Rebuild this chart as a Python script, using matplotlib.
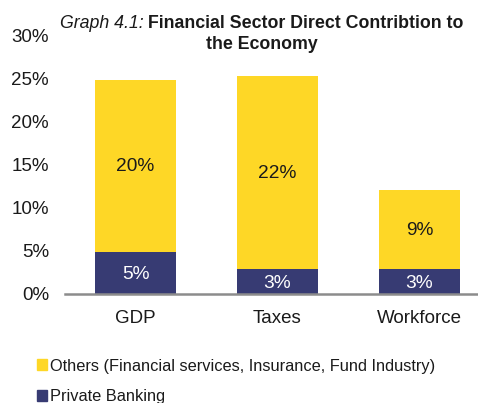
import numpy as np
import matplotlib
matplotlib.use("Agg")
import matplotlib.pyplot as plt
from matplotlib.patches import Patch

plt.rcParams['font.family'] = ['Liberation Sans', 'DejaVu Sans']

categories = ["GDP", "Taxes", "Workforce"]
private_banking = [4.9, 2.9, 2.9]
others = [19.9, 22.3, 9.1]
pb_labels = ["5%", "3%", "3%"]
oth_labels = ["20%", "22%", "9%"]
yticks = [0, 5, 10, 15, 20, 25, 30]

yellow = "#FED726"
navy = "#373B73"

W, H = 478, 403
fig = plt.figure(figsize=(W / 100, H / 100), dpi=100)
# plot area in pixels: left 65, right 478, bottom y=294, top (30%) y=35
ax = fig.add_axes([65 / W, 1 - 294 / H, 1 - 65 / W, (294 - 35) / H])

x = np.arange(len(categories))
bw = 0.57
ax.bar(x, private_banking, bw, color=navy, zorder=2)
ax.bar(x, others, bw, bottom=private_banking, color=yellow, zorder=2)

for i in range(len(categories)):
    ax.text(x[i], private_banking[i] / 2 - 0.2, pb_labels[i], ha="center", va="center",
            color="white", fontsize=13.8)
    ax.text(x[i], private_banking[i] + others[i] / 2 - 0.1, oth_labels[i], ha="center",
            va="center", color="#1a1a1a", fontsize=13.8)

ax.set_xlim(-0.4965, 2.412)
ax.set_ylim(0, 30)
ax.set_yticks(yticks)
ax.set_yticklabels([f"{v}%" for v in yticks])
ax.set_xticks(x)
ax.set_xticklabels(categories)
ax.tick_params(axis="y", length=0, pad=11.5, labelsize=13.5, colors="#1a1a1a")
ax.tick_params(axis="x", length=0, pad=11.5, labelsize=13.5, colors="#1a1a1a")
for s in ["top", "right", "left"]:
    ax.spines[s].set_visible(False)
ax.spines["bottom"].set_color("#8c8c8c")
ax.spines["bottom"].set_linewidth(1.8)
ax.spines["bottom"].set_zorder(3)
ax.patch.set_alpha(0)

# title: italic prefix + bold remainder
y1 = 1 - 28 / H
t1 = fig.text(60 / W, y1, "Graph 4.1:", fontstyle="italic", fontsize=12.8,
              va="baseline", ha="left", color="#1a1a1a")
r = fig.canvas.get_renderer()
bb = t1.get_window_extent(r)
fig.text(bb.x1 / (W) + 4 / W, y1, "Financial Sector Direct Contribtion to",
         fontweight="bold", fontsize=12.8, va="baseline", ha="left", color="#1a1a1a")
fig.text(262 / W, 1 - 49 / H, "the Economy", fontweight="bold", fontsize=12.8,
         va="baseline", ha="center", color="#1a1a1a")

handles = [Patch(color=yellow), Patch(color=navy)]
leg = fig.legend(handles,
                 ["Others (Financial services, Insurance, Fund Industry)", "Private Banking"],
                 loc="upper left", bbox_to_anchor=(30 / W, 1 - 352 / H), frameon=False,
                 fontsize=11.8, handlelength=0.65, handleheight=0.65, handletextpad=0.2,
                 labelspacing=0.95, borderaxespad=0)
for t in leg.get_texts():
    t.set_color("#1a1a1a")

fig.savefig("out.png", dpi=100)
